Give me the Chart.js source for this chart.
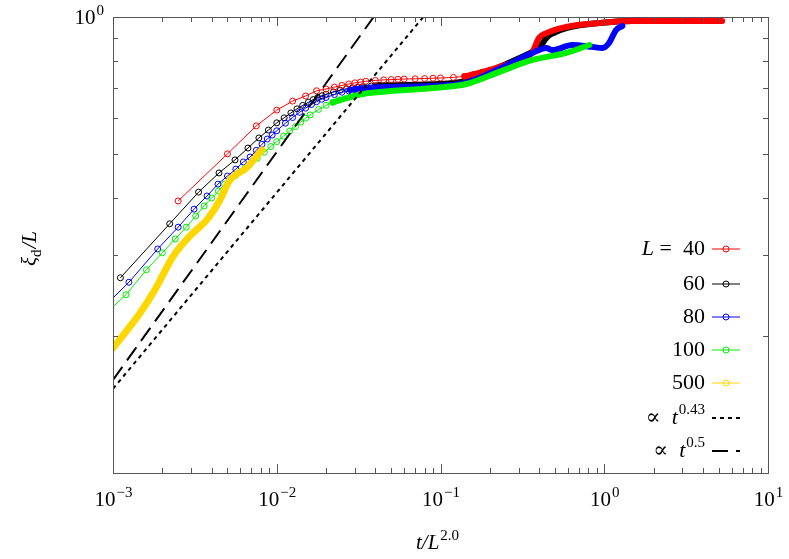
<!DOCTYPE html>
<html>
<head>
<meta charset="utf-8">
<script src="https://cdn.jsdelivr.net/npm/chart.js@4"></script>
<style>
  html, body { margin: 0; padding: 0; background: #fff; }
  #wrap { width: 789px; height: 559px; }
</style>
</head>
<body>
<div id="wrap"><canvas id="chart" width="789" height="559"></canvas></div>
<script>
// values (x = t/L^2, y = xi_d/L)
const redX = [0.0025, 0.005, 0.0075, 0.01, 0.0125, 0.015, 0.0175, 0.02, 0.0225, 0.025, 0.0275, 0.03, 0.0325, 0.035, 0.04, 0.045, 0.05, 0.055, 0.06, 0.07, 0.08, 0.09, 0.1, 0.12, 0.14, 0.16, 0.18, 0.2];
const redY = [0.395, 0.501, 0.577, 0.625, 0.654, 0.671, 0.689, 0.695, 0.702, 0.708, 0.713, 0.717, 0.72, 0.723, 0.726, 0.728, 0.729, 0.73, 0.731, 0.732, 0.733, 0.734, 0.735, 0.737, 0.741, 0.748, 0.757, 0.765];
const redTailX = [0.14, 0.2, 0.25, 0.3, 0.364, 0.40, 0.443, 0.586, 0.933, 1.48, 2.32, 5.25];
const redTailY = [0.741, 0.765, 0.785, 0.80, 0.838, 0.90, 0.922, 0.951, 0.97, 0.98, 0.98, 0.98];

const blackX = [0.00111, 0.00222, 0.00333, 0.00444, 0.00556, 0.00667, 0.00778, 0.00889, 0.01, 0.0111, 0.0122, 0.0133, 0.0144, 0.0156, 0.0167, 0.0178, 0.0189, 0.02, 0.0222, 0.0244, 0.0267, 0.0289, 0.0311, 0.0333, 0.0378, 0.0422, 0.0467];
const blackY = [0.268, 0.352, 0.413, 0.455, 0.486, 0.516, 0.543, 0.565, 0.586, 0.601, 0.616, 0.629, 0.64, 0.65, 0.659, 0.666, 0.672, 0.677, 0.685, 0.691, 0.696, 0.699, 0.701, 0.703, 0.706, 0.708, 0.709];
const blackTailX = [0.04, 0.0894, 0.144, 0.229, 0.364, 0.402, 0.443, 0.482, 0.586, 0.933, 1.48, 2.32];
const blackTailY = [0.708, 0.712, 0.724, 0.777, 0.838, 0.855, 0.90, 0.92, 0.946, 0.97, 0.98, 0.98];

const blueX = [0.000625, 0.00125, 0.001875, 0.0025, 0.003125, 0.00375, 0.004375, 0.005, 0.005625, 0.00625, 0.006875, 0.0075, 0.00813, 0.00875, 0.00938, 0.01, 0.0113, 0.0125, 0.0138, 0.015, 0.0163, 0.0175, 0.0188, 0.02, 0.0225, 0.025, 0.0275, 0.03];
const blueY = [0.205, 0.262, 0.31, 0.346, 0.379, 0.405, 0.43, 0.448, 0.464, 0.481, 0.493, 0.51, 0.526, 0.54, 0.551, 0.563, 0.585, 0.602, 0.618, 0.631, 0.643, 0.652, 0.66, 0.666, 0.676, 0.684, 0.689, 0.693];
const blueTailX = [0.028, 0.0354, 0.0894, 0.144, 0.229, 0.364, 0.443, 0.482, 0.638, 0.845, 0.973, 1.07, 1.18, 1.29];
const blueTailY = [0.692, 0.70, 0.706, 0.718, 0.77, 0.834, 0.855, 0.846, 0.868, 0.86, 0.855, 0.877, 0.936, 0.956];

const greenX = [0.0008, 0.0012, 0.0016, 0.002, 0.0024, 0.0028, 0.0032, 0.0036, 0.004, 0.0044, 0.0048, 0.0052, 0.0056, 0.006, 0.0064, 0.0068, 0.0076, 0.0084, 0.0092, 0.01, 0.011, 0.012, 0.013, 0.014, 0.015, 0.016, 0.018, 0.02, 0.022, 0.024];
const greenY = [0.215, 0.246, 0.279, 0.304, 0.326, 0.346, 0.366, 0.385, 0.401, 0.415, 0.43, 0.44, 0.449, 0.458, 0.466, 0.474, 0.49, 0.505, 0.52, 0.533, 0.548, 0.562, 0.575, 0.588, 0.6, 0.61, 0.627, 0.64, 0.65, 0.658];
const greenTailX = [0.022, 0.03, 0.0354, 0.0894, 0.144, 0.229, 0.364, 0.586, 0.811];
const greenTailY = [0.65, 0.672, 0.68, 0.699, 0.713, 0.758, 0.805, 0.834, 0.868];

const yellowX = [0.001, 0.00146, 0.0018, 0.00232, 0.003, 0.00374, 0.0045, 0.00517, 0.0065, 0.0081];
const yellowY = [0.188, 0.224, 0.252, 0.298, 0.333, 0.359, 0.397, 0.439, 0.466, 0.511];

const fit043X = [0.001, 0.1];
const fit043Y = [0.153, 1.11];
const fit05X = [0.001, 0.1];
const fit05Y = [0.16, 1.6];

const xTickLabels = ['-3', '-2', '-1', '0', '1'];

const RED = '#ff0000', BLACK = '#000000', BLUE = '#0000ff', GREEN = '#00ee00', GOLD = '#ffd700';

function pts(xs, ys) { return xs.map((x, i) => ({ x: x, y: ys[i] })); }

function markers(xs, ys, color) {
  return { data: pts(xs, ys), borderColor: color, backgroundColor: 'transparent', borderWidth: 1,
    pointRadius: 3, pointBorderWidth: 1, pointStyle: 'circle', pointBackgroundColor: 'transparent', tension: 0 };
}
function thick(xs, ys, color, w) {
  return { data: pts(xs, ys), borderColor: color, borderWidth: w, pointRadius: 0,
    cubicInterpolationMode: 'monotone', borderCapStyle: 'round', borderJoinStyle: 'round' };
}

const SERIF = '"Liberation Serif", "DejaVu Serif", serif';

const frame = {
  id: 'frame',
  afterDraw(chart) {
    const ctx = chart.ctx, a = chart.chartArea, sx = chart.scales.x, sy = chart.scales.y;
    ctx.save();
    ctx.strokeStyle = '#555';
    ctx.lineWidth = 1;
    ctx.strokeRect(a.left + 0.5, a.top + 0.5, a.right - a.left, a.bottom - a.top);
    ctx.beginPath();
    for (let e = -3; e <= 1; e++) {
      for (let m = 1; m <= 9; m++) {
        const v = m * Math.pow(10, e);
        if (v > 10.0001) break;
        const px = Math.round(sx.getPixelForValue(v)) + 0.5;
        const len = m === 1 ? 9 : 5;
        ctx.moveTo(px, a.bottom); ctx.lineTo(px, a.bottom - len);
        ctx.moveTo(px, a.top); ctx.lineTo(px, a.top + len);
      }
    }
    for (let m = 2; m <= 10; m++) {
      const py = Math.round(sy.getPixelForValue(m / 10)) + 0.5;
      const len = m === 10 ? 9 : 5;
      ctx.moveTo(a.left, py); ctx.lineTo(a.left + len, py);
      ctx.moveTo(a.right, py); ctx.lineTo(a.right - len, py);
    }
    ctx.stroke();

    ctx.fillStyle = '#000';
    ctx.textBaseline = 'alphabetic';
    function power(x, y, base, exp, align) {
      ctx.font = '21px ' + SERIF;
      const bw = ctx.measureText(base).width;
      ctx.font = '15px ' + SERIF;
      const ew = ctx.measureText(exp).width;
      let x0 = align === 'right' ? x - bw - ew : x - (bw + ew) / 2;
      ctx.textAlign = 'left';
      ctx.font = '21px ' + SERIF;
      ctx.fillText(base, x0, y);
      ctx.font = '15px ' + SERIF;
      ctx.fillText(exp, x0 + bw + 1, y - 9);
    }
    xTickLabels.forEach((e, i) => {
      power(sx.getPixelForValue(Math.pow(10, -3 + i)), a.bottom + 33, '10', e.replace('-', '\u2212'), 'center');
    });
    power(a.left - 10, a.top + 7, '10', '0', 'right');

    // axis titles
    ctx.font = 'italic 21px ' + SERIF;
    ctx.textAlign = 'left';
    const tx = 416, ty = 549;
    ctx.fillText('t/L', tx, ty);
    const w1 = ctx.measureText('t/L').width;
    ctx.font = '15px ' + SERIF;
    ctx.fillText('2.0', tx + w1 + 1, ty - 9);

    ctx.save();
    ctx.translate(36, 266);
    ctx.rotate(-Math.PI / 2);
    ctx.font = 'italic 21px ' + SERIF;
    ctx.fillText('\u03BE', 0, 0);
    const wx = ctx.measureText('\u03BE').width;
    ctx.font = '15px ' + SERIF;
    ctx.fillText('d', wx, 5);
    const wd = ctx.measureText('d').width;
    ctx.font = 'italic 21px ' + SERIF;
    ctx.fillText('/L', wx + wd + 1, 0);
    ctx.restore();

    // legend
    const rows = [
      { y: 255, color: RED, text: 'L = 40', mark: true },
      { y: 290, color: BLACK, text: '60', mark: true },
      { y: 323, color: BLUE, text: '80', mark: true },
      { y: 356, color: GREEN, text: '100', mark: true },
      { y: 389, color: GOLD, text: '500', mark: true },
      { y: 424, color: BLACK, text: 'p43', dash: [4, 4], w: 2 },
      { y: 457, color: BLACK, text: 'p5', dash: [16, 8], w: 2 }
    ];
    rows.forEach(r => {
      const ly = r.y - 6;
      ctx.strokeStyle = r.color;
      ctx.lineWidth = r.w || 1;
      ctx.setLineDash(r.dash || []);
      ctx.beginPath(); ctx.moveTo(712, ly); ctx.lineTo(740, ly); ctx.stroke();
      ctx.setLineDash([]);
      if (r.mark) { ctx.lineWidth = 1; ctx.beginPath(); ctx.arc(726, ly, 3, 0, Math.PI * 2); ctx.stroke(); }
      ctx.fillStyle = '#000';
      ctx.textAlign = 'right';
      if (r.text === 'L = 40') {
        ctx.font = '22px ' + SERIF;
        const w40 = ctx.measureText(' =  40').width;
        ctx.fillText(' =  40', 705, r.y);
        ctx.font = 'italic 22px ' + SERIF;
        ctx.fillText('L', 705 - w40, r.y);
      } else if (r.text === 'p43' || r.text === 'p5') {
        const exp = r.text === 'p43' ? '0.43' : '0.5';
        ctx.font = '15px ' + SERIF;
        const ew = ctx.measureText(exp).width;
        ctx.fillText(exp, 705, r.y - 10);
        ctx.font = 'italic 22px ' + SERIF;
        const tw = ctx.measureText('t').width;
        ctx.fillText('t', 704 - ew, r.y);
        ctx.font = '22px ' + SERIF;
        ctx.fillText('\u221D  ', 704 - ew - tw, r.y);
      } else {
        ctx.font = '22px ' + SERIF;
        ctx.fillText(r.text, 705, r.y);
      }
    });
    ctx.restore();
  }
};

new Chart(document.getElementById('chart'), {
  type: 'line',
  data: {
    datasets: [
      { data: pts(fit043X, fit043Y), borderColor: BLACK, borderWidth: 2, borderDash: [4, 4], pointRadius: 0 },
      { data: pts(fit05X, fit05Y), borderColor: BLACK, borderWidth: 2, borderDash: [16, 8], pointRadius: 0 },
      thick(yellowX, yellowY, GOLD, 7),
      markers(greenX, greenY, GREEN),
      thick(greenTailX, greenTailY, GREEN, 6),
      markers(blueX, blueY, BLUE),
      thick(blueTailX, blueTailY, BLUE, 6),
      markers(redX, redY, RED),
      thick(redTailX, redTailY, RED, 6),
      markers(blackX, blackY, BLACK),
      thick(blackTailX, blackTailY, BLACK, 6)
    ]
  },
  options: {
    responsive: false,
    animation: false,
    layout: { padding: { left: 113, right: 21, top: 17, bottom: 86 } },
    plugins: { legend: { display: false }, tooltip: { enabled: false } },
    scales: {
      x: { type: 'logarithmic', min: 0.001, max: 10, display: false },
      y: { type: 'logarithmic', min: 0.1, max: 1, display: false }
    }
  },
  plugins: [frame]
});
</script>
</body>
</html>
